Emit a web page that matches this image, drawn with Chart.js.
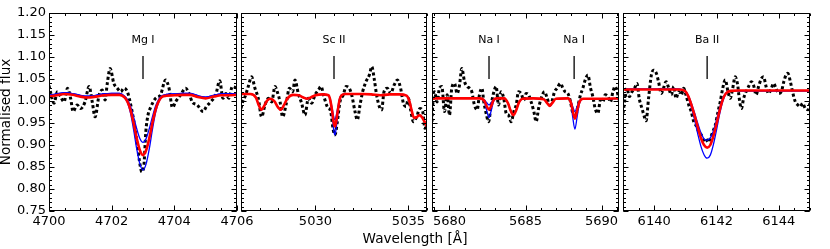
<!DOCTYPE html>
<html>
<head>
<meta charset="utf-8">
<script src="https://cdn.jsdelivr.net/npm/chart.js@4.4.1/dist/chart.umd.min.js"></script>
<style>
body { margin: 0; background: #fff; }
#wrap { position: relative; width: 830px; height: 249px; }
#wrap canvas { position: absolute; left: 0; top: 0; }
#xlabel { position: absolute; left: 0; width: 830px; top: 230px; line-height: 16px; text-align: center; font-family: "DejaVu Sans"; font-size: 13.6px; color: #000; }
</style>
</head>
<body>
<div id="wrap">
  <canvas id="p1" width="830" height="249"></canvas>
  <canvas id="p2" width="830" height="249"></canvas>
  <canvas id="p3" width="830" height="249"></canvas>
  <canvas id="p4" width="830" height="249"></canvas>
  <div id="xlabel">Wavelength [Å]</div>
</div>
<script>
// shared y axis
let yTicks = [0.75, 0.80, 0.85, 0.90, 0.95, 1.00, 1.05, 1.10, 1.15, 1.20];

// panel 1 : Mg I
let mgTicks = [4700, 4702, 4704, 4706];
let mgLines = ['Mg I'];
let mgLineWave = [4703.0];
let mgObsWave = [4700.00, 4700.05, 4700.16, 4700.27, 4700.37, 4700.48, 4700.59, 4700.69, 4700.77, 4700.90,
    4701.01, 4701.15, 4701.28, 4701.38, 4701.47, 4701.60, 4701.70, 4701.79, 4701.86, 4701.95,
    4702.07, 4702.18, 4702.29, 4702.39, 4702.50, 4702.61, 4702.71, 4702.82, 4702.89, 4702.96,
    4703.03, 4703.09, 4703.16, 4703.24, 4703.40, 4703.56, 4703.72, 4703.83, 4703.94, 4704.04,
    4704.20, 4704.36, 4704.47, 4704.57, 4704.73, 4704.92, 4705.02, 4705.16, 4705.32, 4705.45,
    4705.55, 4705.64, 4705.74, 4705.85, 4706.00];
let mgObsFlux = [1.035, 1.020, 0.995, 1.021, 1.010, 0.998, 1.029, 1.006, 0.976, 0.991,
    0.983, 0.998, 1.033, 0.998, 0.964, 1.014, 1.025, 1.002, 1.040, 1.074,
    1.040, 1.029, 1.021, 1.029, 1.021, 0.991, 0.953, 0.900, 0.862, 0.839,
    0.855, 0.930, 0.968, 0.985, 1.006, 1.014, 1.048, 1.029, 0.985, 0.998,
    1.014, 1.029, 1.017, 0.998, 0.991, 0.976, 0.987, 0.998, 1.014, 1.046,
    1.006, 1.017, 1.006, 1.033, 1.029];
let mgModWave = [4700, 4700.25, 4700.5, 4700.75, 4701, 4701.25, 4701.5, 4701.75, 4702, 4702.25,
    4702.4, 4702.5, 4702.6, 4702.7, 4702.8, 4702.9, 4703, 4703.1, 4703.2, 4703.3,
    4703.4, 4703.5, 4703.6, 4703.75, 4704, 4704.25, 4704.5, 4704.75, 4705, 4705.25,
    4705.5, 4705.75, 4706];
let mgBest = [1.010, 1.013, 1.016, 1.014, 1.010, 1.008, 1.010, 1.013, 1.014, 1.014,
    1.009, 0.999, 0.980, 0.950, 0.915, 0.888, 0.877, 0.888, 0.915, 0.950,
    0.980, 0.999, 1.009, 1.012, 1.013, 1.014, 1.014, 1.009, 1.006, 1.010,
    1.013, 1.013, 1.014];
let mgUpper = [1.013, 1.016, 1.019, 1.017, 1.013, 1.011, 1.013, 1.016, 1.017, 1.017,
    1.012, 1.004, 0.988, 0.964, 0.937, 0.915, 0.906, 0.915, 0.937, 0.964,
    0.988, 1.004, 1.012, 1.015, 1.016, 1.017, 1.017, 1.012, 1.009, 1.013,
    1.016, 1.016, 1.017];
let mgLower = [1.013, 1.016, 1.019, 1.017, 1.013, 1.011, 1.013, 1.016, 1.017, 1.017,
    1.009, 0.997, 0.973, 0.935, 0.891, 0.857, 0.843, 0.857, 0.891, 0.935,
    0.973, 0.997, 1.009, 1.015, 1.016, 1.017, 1.017, 1.012, 1.009, 1.013,
    1.016, 1.016, 1.017];

// panel 2 : Sc II
let scTicks = [5030, 5035];
let scLines = ['Sc II'];
let scLineWave = [5031.0];
let scObsWave = [5026.00, 5026.09, 5026.22, 5026.39, 5026.57, 5026.75, 5026.93, 5027.11, 5027.29, 5027.47,
    5027.65, 5027.83, 5027.95, 5028.10, 5028.24, 5028.42, 5028.60, 5028.78, 5028.90, 5029.08,
    5029.26, 5029.44, 5029.62, 5029.80, 5029.98, 5030.16, 5030.30, 5030.46, 5030.64, 5030.82,
    5030.96, 5031.05, 5031.18, 5031.32, 5031.50, 5031.65, 5031.82, 5031.95, 5032.13, 5032.25,
    5032.40, 5032.54, 5032.72, 5032.90, 5033.03, 5033.17, 5033.29, 5033.44, 5033.56, 5033.69,
    5033.87, 5034.05, 5034.23, 5034.41, 5034.58, 5034.73, 5034.87, 5035.00, 5035.12, 5035.27,
    5035.44, 5035.62, 5035.77, 5035.89, 5036.00];
let scObsFlux = [0.983, 0.998, 1.010, 1.033, 1.055, 1.029, 1.006, 0.964, 0.991, 1.006,
    0.998, 1.033, 1.021, 0.998, 0.964, 0.991, 1.029, 1.021, 1.048, 1.017,
    0.995, 0.968, 1.006, 0.995, 1.014, 1.025, 1.033, 1.010, 0.987, 0.976,
    0.934, 0.923, 0.953, 0.998, 1.014, 1.033, 1.029, 1.014, 0.976, 0.957,
    0.991, 1.021, 1.044, 1.059, 1.078, 1.048, 1.014, 0.987, 0.980, 1.021,
    1.029, 1.017, 1.036, 1.048, 1.029, 0.995, 0.987, 1.006, 0.980, 0.953,
    0.964, 0.983, 0.976, 0.938, 0.945];
let scModWave = [5026, 5026.5, 5026.8, 5026.95, 5027.1, 5027.25, 5027.4, 5027.6, 5027.8, 5028.0,
    5028.15, 5028.3, 5028.5, 5028.8, 5029.1, 5029.35, 5029.55, 5029.75, 5030.0, 5030.4,
    5030.7, 5030.8, 5030.9, 5031.0, 5031.05, 5031.1, 5031.2, 5031.3, 5031.4, 5031.6,
    5032, 5032.5, 5033, 5033.5, 5034, 5034.5, 5034.9, 5035.05, 5035.15, 5035.3,
    5035.45, 5035.6, 5035.75, 5035.9, 5036];
let scBest = [1.016, 1.016, 1.008, 0.991, 0.980, 0.989, 1.001, 1.005, 0.999, 0.985,
    0.980, 0.990, 1.006, 1.014, 1.013, 1.008, 1.005, 1.008, 1.013, 1.015,
    1.013, 1.002, 0.977, 0.947, 0.942, 0.949, 0.977, 1.003, 1.013, 1.016,
    1.016, 1.016, 1.015, 1.013, 1.015, 1.015, 1.012, 1.000, 0.983, 0.962,
    0.963, 0.968, 0.962, 0.950, 0.942];
let scUpper = [1.016, 1.016, 1.008, 0.991, 0.980, 0.989, 1.001, 1.005, 0.999, 0.985,
    0.980, 0.990, 1.006, 1.014, 1.013, 1.008, 1.005, 1.008, 1.013, 1.015,
    1.013, 1.004, 0.984, 0.961, 0.957, 0.963, 0.985, 1.006, 1.013, 1.016,
    1.016, 1.016, 1.015, 1.013, 1.015, 1.015, 1.012, 1.000, 0.983, 0.962,
    0.963, 0.968, 0.962, 0.950, 0.942];
let scLower = [1.016, 1.016, 1.008, 0.991, 0.980, 0.989, 1.001, 1.005, 0.999, 0.985,
    0.980, 0.990, 1.006, 1.014, 1.013, 1.008, 1.005, 1.008, 1.013, 1.015,
    1.013, 0.998, 0.968, 0.930, 0.923, 0.933, 0.968, 1.000, 1.013, 1.016,
    1.016, 1.016, 1.015, 1.013, 1.015, 1.015, 1.012, 1.000, 0.983, 0.962,
    0.963, 0.968, 0.962, 0.950, 0.942];

// panel 3 : Na I doublet
let naTicks = [5680, 5685, 5690];
let naLines = ['Na I', 'Na I'];
let naLineWave = [5682.6, 5688.2];
let naObsWave = [5678.85, 5678.90, 5679.01, 5679.19, 5679.34, 5679.50, 5679.67, 5679.85, 5680.00, 5680.15,
    5680.33, 5680.50, 5680.66, 5680.81, 5680.99, 5681.16, 5681.32, 5681.47, 5681.64, 5681.82,
    5681.97, 5682.13, 5682.26, 5682.41, 5682.57, 5682.74, 5682.89, 5683.07, 5683.22, 5683.40,
    5683.57, 5683.73, 5683.88, 5684.06, 5684.23, 5684.39, 5684.54, 5684.71, 5684.89, 5685.04,
    5685.20, 5685.37, 5685.55, 5685.70, 5685.86, 5686.03, 5686.25, 5686.43, 5686.58, 5686.73,
    5686.91, 5687.08, 5687.30, 5687.46, 5687.61, 5687.79, 5687.96, 5688.11, 5688.27, 5688.44,
    5688.62, 5688.77, 5688.93, 5689.10, 5689.28, 5689.43, 5689.58, 5689.76, 5689.93, 5690.09,
    5690.24, 5690.42, 5690.59, 5690.75, 5690.90, 5691.03, 5691.16];
let naObsFlux = [0.953, 0.991, 1.021, 0.998, 1.029, 1.033, 0.976, 1.014, 0.968, 1.029,
    1.040, 1.017, 1.036, 1.074, 1.044, 1.033, 1.029, 1.021, 0.991, 0.980,
    1.014, 1.029, 0.998, 0.972, 0.953, 0.991, 1.017, 1.033, 0.991, 1.021,
    1.006, 0.972, 0.968, 0.953, 0.976, 0.991, 1.021, 1.017, 1.002, 1.017,
    1.014, 0.998, 0.976, 0.953, 0.983, 1.006, 1.021, 1.006, 0.991, 0.998,
    1.021, 1.029, 1.040, 1.029, 1.021, 1.017, 0.998, 0.972, 0.964, 0.987,
    1.014, 1.029, 1.048, 1.059, 1.029, 1.010, 0.983, 0.972, 1.002, 0.998,
    1.014, 1.010, 0.998, 1.021, 1.033, 1.021, 1.002];
let naModWave = [5678.85, 5680, 5681, 5682, 5682.3, 5682.45, 5682.6, 5682.75, 5682.9, 5683.1,
    5683.6, 5683.85, 5684.0, 5684.2, 5684.4, 5684.55, 5684.8, 5685.5, 5686.2, 5686.45,
    5686.6, 5686.75, 5687.0, 5687.8, 5688.0, 5688.1, 5688.25, 5688.4, 5688.55, 5688.8,
    5690, 5691.15];
let naBest = [1.006, 1.006, 1.006, 1.006, 1.000, 0.988, 0.980, 0.989, 1.002, 1.006,
    1.006, 0.995, 0.980, 0.968, 0.980, 0.995, 1.005, 1.006, 1.004, 0.994,
    0.989, 0.995, 1.005, 1.006, 0.995, 0.979, 0.960, 0.979, 0.998, 1.005,
    1.005, 1.006];
let naUpper = [1.006, 1.006, 1.006, 1.006, 1.002, 0.996, 0.991, 0.996, 1.004, 1.006,
    1.006, 0.995, 0.980, 0.968, 0.980, 0.995, 1.005, 1.006, 1.004, 0.994,
    0.989, 0.995, 1.005, 1.006, 0.999, 0.988, 0.976, 0.988, 1.001, 1.005,
    1.005, 1.006];
let naLower = [1.006, 1.006, 1.006, 1.006, 0.997, 0.978, 0.962, 0.979, 0.999, 1.006,
    1.006, 0.995, 0.980, 0.968, 0.980, 0.995, 1.005, 1.006, 1.004, 0.994,
    0.989, 0.995, 1.005, 1.006, 0.991, 0.965, 0.936, 0.965, 0.995, 1.005,
    1.005, 1.006];

// panel 4 : Ba II
let baTicks = [6140, 6142, 6144];
let baLines = ['Ba II'];
let baLineWave = [6141.7];
let baObsWave = [6139.00, 6139.05, 6139.13, 6139.20, 6139.29, 6139.37, 6139.45, 6139.52, 6139.61, 6139.70,
    6139.74, 6139.82, 6139.91, 6139.98, 6140.07, 6140.14, 6140.23, 6140.30, 6140.38, 6140.47,
    6140.55, 6140.63, 6140.70, 6140.79, 6140.87, 6140.95, 6141.02, 6141.11, 6141.19, 6141.27,
    6141.34, 6141.43, 6141.51, 6141.59, 6141.66, 6141.73, 6141.80, 6141.88, 6141.96, 6142.05,
    6142.12, 6142.20, 6142.28, 6142.37, 6142.44, 6142.52, 6142.60, 6142.68, 6142.73, 6142.80,
    6142.87, 6142.95, 6143.03, 6143.12, 6143.19, 6143.27, 6143.35, 6143.44, 6143.51, 6143.59,
    6143.67, 6143.76, 6143.83, 6143.91, 6143.99, 6144.08, 6144.16, 6144.23, 6144.29, 6144.37,
    6144.44, 6144.53, 6144.61, 6144.69, 6144.76, 6144.85, 6144.94, 6145.00];
let baObsFlux = [0.972, 0.998, 1.029, 1.010, 1.021, 1.029, 1.040, 1.006, 0.983, 0.961,
    0.955, 1.006, 1.059, 1.070, 1.063, 1.044, 1.017, 1.029, 1.044, 1.029,
    1.014, 1.033, 1.006, 1.021, 1.014, 1.029, 1.014, 0.991, 0.976, 0.953,
    0.945, 0.930, 0.923, 0.911, 0.915, 0.906, 0.915, 0.930, 0.945, 0.976,
    0.998, 1.029, 1.048, 1.021, 1.006, 1.029, 1.055, 1.036, 1.006, 0.983,
    1.006, 1.021, 1.033, 1.044, 1.036, 1.014, 1.033, 1.051, 1.055, 1.033,
    1.017, 1.029, 1.040, 1.029, 1.017, 1.021, 1.044, 1.059, 1.063, 1.044,
    1.021, 0.998, 0.991, 0.987, 0.995, 0.983, 0.980, 0.995];
let baModWave = [6139, 6140, 6140.8, 6141.0, 6141.1, 6141.2, 6141.3, 6141.4, 6141.5, 6141.6,
    6141.7, 6141.8, 6141.9, 6142.0, 6142.1, 6142.2, 6142.3, 6142.45, 6142.7, 6143.5,
    6145];
let baBest = [1.026, 1.026, 1.026, 1.022, 1.010, 0.990, 0.966, 0.940, 0.916, 0.900,
    0.894, 0.900, 0.920, 0.948, 0.978, 1.003, 1.017, 1.023, 1.024, 1.024,
    1.024];
let baUpper = [1.027, 1.027, 1.027, 1.023, 1.012, 0.994, 0.972, 0.949, 0.928, 0.914,
    0.911, 0.916, 0.932, 0.957, 0.984, 1.006, 1.018, 1.023, 1.023, 1.023,
    1.023];
let baLower = [1.027, 1.027, 1.027, 1.021, 1.007, 0.984, 0.956, 0.925, 0.897, 0.878,
    0.870, 0.877, 0.901, 0.934, 0.970, 0.999, 1.016, 1.023, 1.023, 1.023,
    1.023];

Chart.defaults.font.family = 'DejaVu Sans';
Chart.defaults.color = '#000';

let pts = (xs, ys) => xs.map((x, i) => ({x: x, y: ys[i]}));

// box round the plot with inward major / minor ticks on all four sides
const framePlugin = {
    id: 'frame',
    afterDatasetsDraw(chart, args, opts) {
        const ctx = chart.ctx;
        const a = chart.chartArea;
        const xs = chart.scales.x, ys = chart.scales.y;
        const L = Math.round(a.left) + 0.5, R = Math.round(a.right) - 0.5;
        const T = Math.round(a.top) + 0.5, B = Math.round(a.bottom) - 0.5;
        ctx.save();
        ctx.strokeStyle = '#000';
        ctx.lineWidth = 1;
        ctx.beginPath();
        const steps = (min, max, step) => {
            let out = [];
            for (let n = Math.ceil(min / step - 1e-6); n <= Math.floor(max / step + 1e-6); n++) out.push(n * step);
            return out;
        };
        const xTick = (v, len) => {
            const p = Math.round(xs.getPixelForValue(v)) + 0.5;
            ctx.moveTo(p, B); ctx.lineTo(p, B - len);
            ctx.moveTo(p, T); ctx.lineTo(p, T + len);
        };
        const yTick = (v, len) => {
            const p = Math.round(ys.getPixelForValue(v)) + 0.5;
            ctx.moveTo(L, p); ctx.lineTo(L + len, p);
            ctx.moveTo(R, p); ctx.lineTo(R - len, p);
        };
        steps(xs.min, xs.max, opts.xMinor).forEach(v => xTick(v, 2.5));
        xs.ticks.forEach(t => xTick(t.value, 5));
        steps(ys.min, ys.max, 0.01).forEach(v => yTick(v, 2.5));
        ys.ticks.forEach(t => yTick(t.value, 5));
        ctx.stroke();
        ctx.strokeRect(L, T, R - L, B - T);
        ctx.restore();
    }
};

// line identifications above the spectrum
const marksPlugin = {
    id: 'lineMarks',
    afterDatasetsDraw(chart, args, opts) {
        const ctx = chart.ctx;
        const xs = chart.scales.x, ys = chart.scales.y;
        ctx.save();
        ctx.strokeStyle = '#222';
        ctx.fillStyle = '#000';
        ctx.lineWidth = 1.5;
        ctx.font = '11px "DejaVu Sans"';
        ctx.textAlign = 'center';
        ctx.textBaseline = 'alphabetic';
        opts.waves.forEach((w, i) => {
            const p = xs.getPixelForValue(w);
            ctx.beginPath();
            ctx.moveTo(p, ys.getPixelForValue(1.102));
            ctx.lineTo(p, ys.getPixelForValue(1.050));
            ctx.stroke();
            ctx.fillText(opts.names[i], p, ys.getPixelForValue(1.132));
        });
        ctx.restore();
    }
};

function makePanel(id, p) {
    let line = (data, color, width, dash) => ({
        data: data, borderColor: color, borderWidth: width, borderDash: dash || [],
        pointRadius: 0, fill: false, clip: 0, cubicInterpolationMode: 'monotone'
    });
    return new Chart(document.getElementById(id), {
        type: 'line',
        data: {
            datasets: [
                line(pts(p.modWave, p.best), '#ff0000', 2.6),
                line(pts(p.modWave, p.upper), '#0000ff', 1.3),
                line(pts(p.modWave, p.lower), '#0000ff', 1.3),
                line(pts(p.obsWave, p.obs), '#000000', 3, [3, 2.5])
            ]
        },
        options: {
            responsive: false,
            animation: false,
            events: [],
            layout: { padding: { left: p.first ? 0 : p.left, right: 830 - p.right, top: 13, bottom: 18 } },
            plugins: {
                legend: { display: false },
                tooltip: { enabled: false },
                frame: { xMinor: p.minor },
                lineMarks: { names: p.names, waves: p.lineWave }
            },
            scales: {
                x: {
                    type: 'linear',
                    min: p.min, max: p.max,
                    afterBuildTicks: s => { s.ticks = p.ticks.map(v => ({ value: v })); },
                    afterFit: s => { s.height = 20; },
                    grid: { display: false, drawTicks: false },
                    border: { display: false },
                    ticks: { font: { size: 13 }, color: '#000', padding: 3, maxRotation: 0, autoSkip: false,
                        callback: v => String(v) }
                },
                y: {
                    type: 'linear',
                    display: p.first,
                    min: 0.75, max: 1.20,
                    afterBuildTicks: s => { s.ticks = yTicks.map(v => ({ value: v })); },
                    afterFit: s => { s.width = p.first ? 49 : 0; },
                    grid: { display: false, drawTicks: false },
                    border: { display: false },
                    ticks: { font: { size: 13 }, color: '#000', padding: 3, callback: v => v.toFixed(2) },
                    title: { display: true, text: 'Normalised flux', color: '#000',
                        font: { size: 13.6, lineHeight: 1.0 }, padding: 0 }
                }
            }
        },
        plugins: [framePlugin, marksPlugin]
    });
}

makePanel('p1', { first: true, left: 49, right: 237, min: 4700, max: 4706, minor: 0.5, ticks: mgTicks,
    names: mgLines, lineWave: mgLineWave, obsWave: mgObsWave, obs: mgObsFlux,
    modWave: mgModWave, best: mgBest, upper: mgUpper, lower: mgLower });
makePanel('p2', { first: false, left: 241, right: 427, min: 5026, max: 5036, minor: 1, ticks: scTicks,
    names: scLines, lineWave: scLineWave, obsWave: scObsWave, obs: scObsFlux,
    modWave: scModWave, best: scBest, upper: scUpper, lower: scLower });
makePanel('p3', { first: false, left: 432, right: 619, min: 5678.85, max: 5691.15, minor: 1, ticks: naTicks,
    names: naLines, lineWave: naLineWave, obsWave: naObsWave, obs: naObsFlux,
    modWave: naModWave, best: naBest, upper: naUpper, lower: naLower });
makePanel('p4', { first: false, left: 623, right: 810, min: 6139, max: 6145, minor: 0.5, ticks: baTicks,
    names: baLines, lineWave: baLineWave, obsWave: baObsWave, obs: baObsFlux,
    modWave: baModWave, best: baBest, upper: baUpper, lower: baLower });
</script>
</body>
</html>
